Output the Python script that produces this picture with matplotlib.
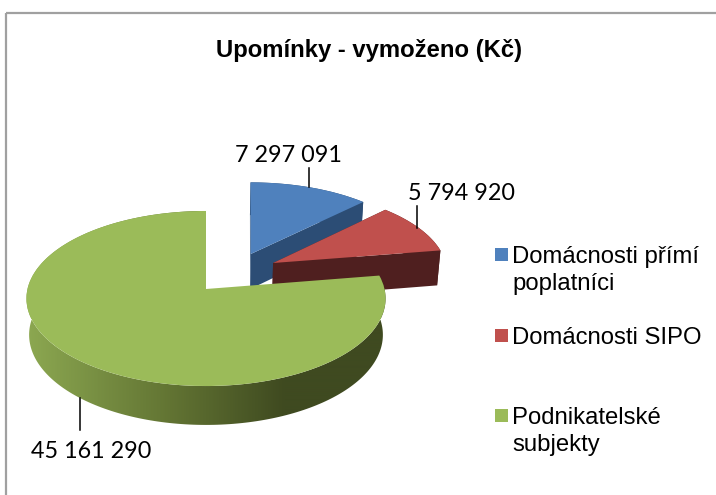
import numpy as np
import matplotlib
matplotlib.use("Agg")
import matplotlib.pyplot as plt
from matplotlib.transforms import Transform
from matplotlib.patches import Rectangle, Polygon
from matplotlib.colors import LinearSegmentedColormap

# ---- data ----
categories = ["Domácnosti přímí\npoplatníci", "Domácnosti SIPO", "Podnikatelské\nsubjekty"]
values = [7297091, 5794920, 45161290]
value_labels = ["7 297 091", "5 794 920", "45 161 290"]
title = "Upomínky - vymoženo (Kč)"

# ---- style / layout ----
top_colors = ["#4F81BD", "#C0504D", "#9BBB59"]
side_colors = ["#2C4D75", "#4F1F1F", "#8AA64F"]
offsets = [(0.262, 0.423), (0.3885, 0.3107), (0.0, 0.0)]   # explosion on the ground plane
skews = [0.026, 0.026, 0.0]
CX, CY, RX, RY, DEPTH, K, M = 206.0, 289.0, 178.5, 86.5, 36.7, 0.1086, 0.015


def project(x, y, z=0.0):
    w = 1 + K * y - M * z
    return CX + RX * x / w, CY - (RY * y + DEPTH * z) / w


class Ground(Transform):
    input_dims = output_dims = 2
    is_affine = False
    has_inverse = False

    def __init__(self, skew=0.0, y0=0.0):
        super().__init__()
        self.skew, self.y0 = skew, y0

    def transform_non_affine(self, values):
        v = np.asarray(values, dtype=float)
        sx, sy = project(v[:, 0] + self.skew * (v[:, 1] - self.y0), v[:, 1])
        return np.column_stack([sx, sy])


fig = plt.figure(figsize=(7.16, 4.95), dpi=100, facecolor="white")
ax = fig.add_axes([0, 0, 1, 1])
wedges, _ = ax.pie(values, colors=top_colors, startangle=90, counterclock=False, radius=1)
ax.set_aspect("auto")
ax.axis("off")

for i, wedge in enumerate(wedges):
    wedge.set_center(offsets[i])
    wedge.set_transform(Ground(skews[i], offsets[i][1]) + ax.transData)
    wedge.set_zorder(2 + 2 * i + 1)
    wedge.set_linewidth(0)

# side walls derived from each wedge's angles
for i, wedge in enumerate(wedges):
    ox, oy = offsets[i]
    sk = skews[i]
    t1, t2 = wedge.theta1, wedge.theta2
    th = np.radians(np.linspace(t1, t2, 240))
    gx, gy = ox + np.cos(th) + sk * np.sin(th), oy + np.sin(th)
    tx, ty = project(gx, gy, 0.0)
    bx, by = project(gx, gy, -1.0)
    rim = np.column_stack([np.r_[tx, bx[::-1]], np.r_[ty, by[::-1]]])
    z = 2 + 2 * i
    if i == 2:
        stops = [(0.0, "#8CA851"), (0.40, "#627433"), (0.72, "#3F4A20"), (1.0, "#3F4A20")]
        cmap = LinearSegmentedColormap.from_list("rim", stops)
        poly = Polygon(rim, closed=True, fc="none", ec="none", transform=ax.transData)
        ax.add_patch(poly)
        im = ax.imshow(np.linspace(0, 1, 360).reshape(1, -1), cmap=cmap, aspect="auto",
                       extent=(rim[:, 0].min(), rim[:, 0].max(), rim[:, 1].max(), rim[:, 1].min()),
                       zorder=z, interpolation="bilinear")
        im.set_clip_path(poly)
    else:
        ax.fill(rim[:, 0], rim[:, 1], color=side_colors[i], lw=0, zorder=z)
    # cut faces
    for t in (t1, t2):
        r = np.radians(t)
        ex, ey = ox + np.cos(r) + sk * np.sin(r), oy + np.sin(r)
        pts = [project(ox, oy, 0.0), project(ex, ey, 0.0), project(ex, ey, -1.0), project(ox, oy, -1.0)]
        if i < 2:
            ax.add_patch(Polygon(pts, closed=True, fc=side_colors[i], ec="none", zorder=z))
ax.set_xlim(0, 716)
ax.set_ylim(495, 0)

# frame
ax.plot([6, 6], [495, 12.5], color="#A0A0A0", lw=1.6, zorder=1, solid_capstyle="butt")
ax.plot([6, 716], [12.5, 12.5], color="#A0A0A0", lw=1.6, zorder=1, solid_capstyle="butt")

# leader lines and labels
leaders = [((309, 168), (309, 187)), ((417, 206), (417, 228)), ((80, 398), (80, 430))]
label_pos = [(288, 155), (462, 193), (91, 451)]
for (a, b), (lx, ly), s in zip(leaders, label_pos, value_labels):
    ax.plot([a[0], b[0]], [a[1], b[1]], color="black", lw=1.1, zorder=12)
    ax.text(lx, ly, s, ha="center", va="center", fontsize=16.8, family="Lato", color="black", zorder=13)

ax.text(369, 50, title, ha="center", va="center", fontsize=17.2, fontweight="bold",
        family="Liberation Sans", color="black")

# legend
legend_y = [248, 329, 409]
for lab, y, col in zip(categories, legend_y, top_colors):
    ax.add_patch(Rectangle((495, y), 13, 13, fc=col, ec="none", zorder=5))
    ax.text(512, y - 2.5, lab, ha="left", va="top", fontsize=17.2, family="Liberation Sans",
            color="black", linespacing=1.32, zorder=5)

fig.savefig("out.png", dpi=100)
